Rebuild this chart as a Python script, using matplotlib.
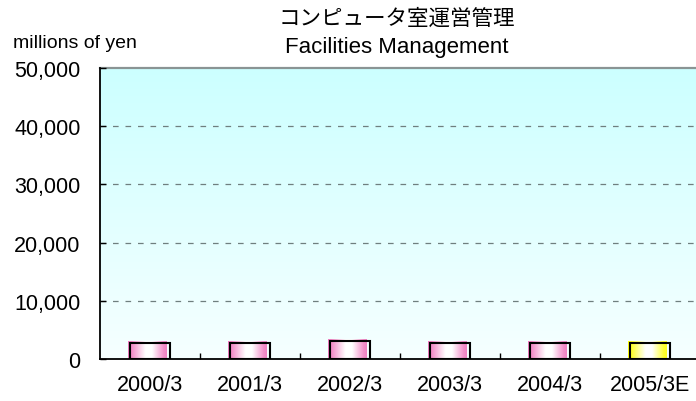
import numpy as np
import matplotlib
matplotlib.use("Agg")
import matplotlib.pyplot as plt
from matplotlib.colors import to_rgb

periods = ["2000/3", "2001/3", "2002/3", "2003/3", "2004/3", "2005/3E"]
sales = [2750, 2750, 3050, 2750, 2750, 2750]
bar_colors = ["#f07cc0", "#f07cc0", "#f07cc0", "#f07cc0", "#f07cc0", "#ffff10"]
y_ticks = [0, 10000, 20000, 30000, 40000, 50000]

title_jp = "コンピュータ室運営管理"
title_en = "Facilities Management"
unit_label = "millions of yen"

LATIN = "Liberation Sans"
CJK = "Noto Sans CJK JP"

fig = plt.figure(figsize=(6.96, 4.02), dpi=100)
ax = fig.add_axes([100 / 696, 1 - 360 / 402, 600 / 696, 291 / 402])
ax.set_xlim(-0.5, len(periods) - 0.5)
ax.set_ylim(0, 50000)

# vertical wash from pale cyan at the top to almost white at the floor
sky = np.linspace(0, 1, 256)[:, None]
top_rgb = np.array(to_rgb("#ccffff"))
bottom_rgb = np.array(to_rgb("#f6ffff"))
wash = top_rgb * (1 - sky[..., None]) + bottom_rgb * sky[..., None]
wash = np.repeat(wash, 2, axis=1)
ax.imshow(wash, extent=(-0.5, len(periods) - 0.5, 0, 50000), aspect="auto",
          origin="upper", zorder=0, interpolation="bilinear")

for level in y_ticks[1:-1]:
    ax.axhline(level, color="#6f7f7f", lw=0.9, dashes=(4.5, 5.5), zorder=1)
ax.axhline(50000, color="#8a9494", lw=1.6, zorder=1, clip_on=False)

# bars: side-to-side shading, colour at the edges fading to white inside
profile_pos = [0.0, 0.08, 0.45, 0.62, 0.92, 1.0]
profile_amt = [1.0, 0.9, 0.0, 0.0, 0.85, 0.95]
u = np.linspace(0, 1, 64)
amt = np.interp(u, profile_pos, profile_amt)
half = 0.20
for i, (value, color) in enumerate(zip(sales, bar_colors)):
    rgb = np.array(to_rgb(color))
    strip = 1 - amt[:, None] * (1 - rgb[None, :])
    strip = strip[None, :, :]
    ax.imshow(strip, extent=(i - half - 0.017, i + half - 0.033, 0, value + 280),
              aspect="auto", zorder=2, interpolation="bilinear")
ax.bar(range(len(periods)), sales, width=2 * half, align="center",
       fill=False, edgecolor="black", lw=1.5, zorder=3)

ax.set_xticks(range(len(periods)))
ax.set_xticklabels(periods, fontsize=15.5, family=LATIN)
ax.set_xticks(np.arange(0.5, len(periods) - 1, 1), minor=True)
ax.tick_params(axis="x", which="major", length=0, pad=11)
ax.tick_params(axis="x", which="minor", direction="in", length=4.5, width=1, color="black")

ax.set_yticks(y_ticks)
ax.set_yticklabels([f"{v:,}" for v in y_ticks], fontsize=15.5, family=LATIN)
ax.tick_params(axis="y", direction="in", length=4.5, width=1, pad=14)

for side in ("top", "right"):
    ax.spines[side].set_visible(False)
ax.spines["left"].set_linewidth(1.3)
ax.spines["bottom"].set_linewidth(1.3)
ax.spines["left"].set_zorder(4)
ax.spines["bottom"].set_zorder(4)

fig.text(13 / 696, 1 - 44 / 402, unit_label, fontsize=14, family=LATIN,
         ha="left", va="center")
fig.text(397 / 696, 1 - 19 / 402, title_jp, fontsize=15.5, family=[CJK, "DejaVu Sans"],
         ha="center", va="center")
fig.text(397 / 696, 1 - 48 / 402, title_en, fontsize=16, family=LATIN,
         ha="center", va="center")

fig.savefig("out.png", dpi=100)
